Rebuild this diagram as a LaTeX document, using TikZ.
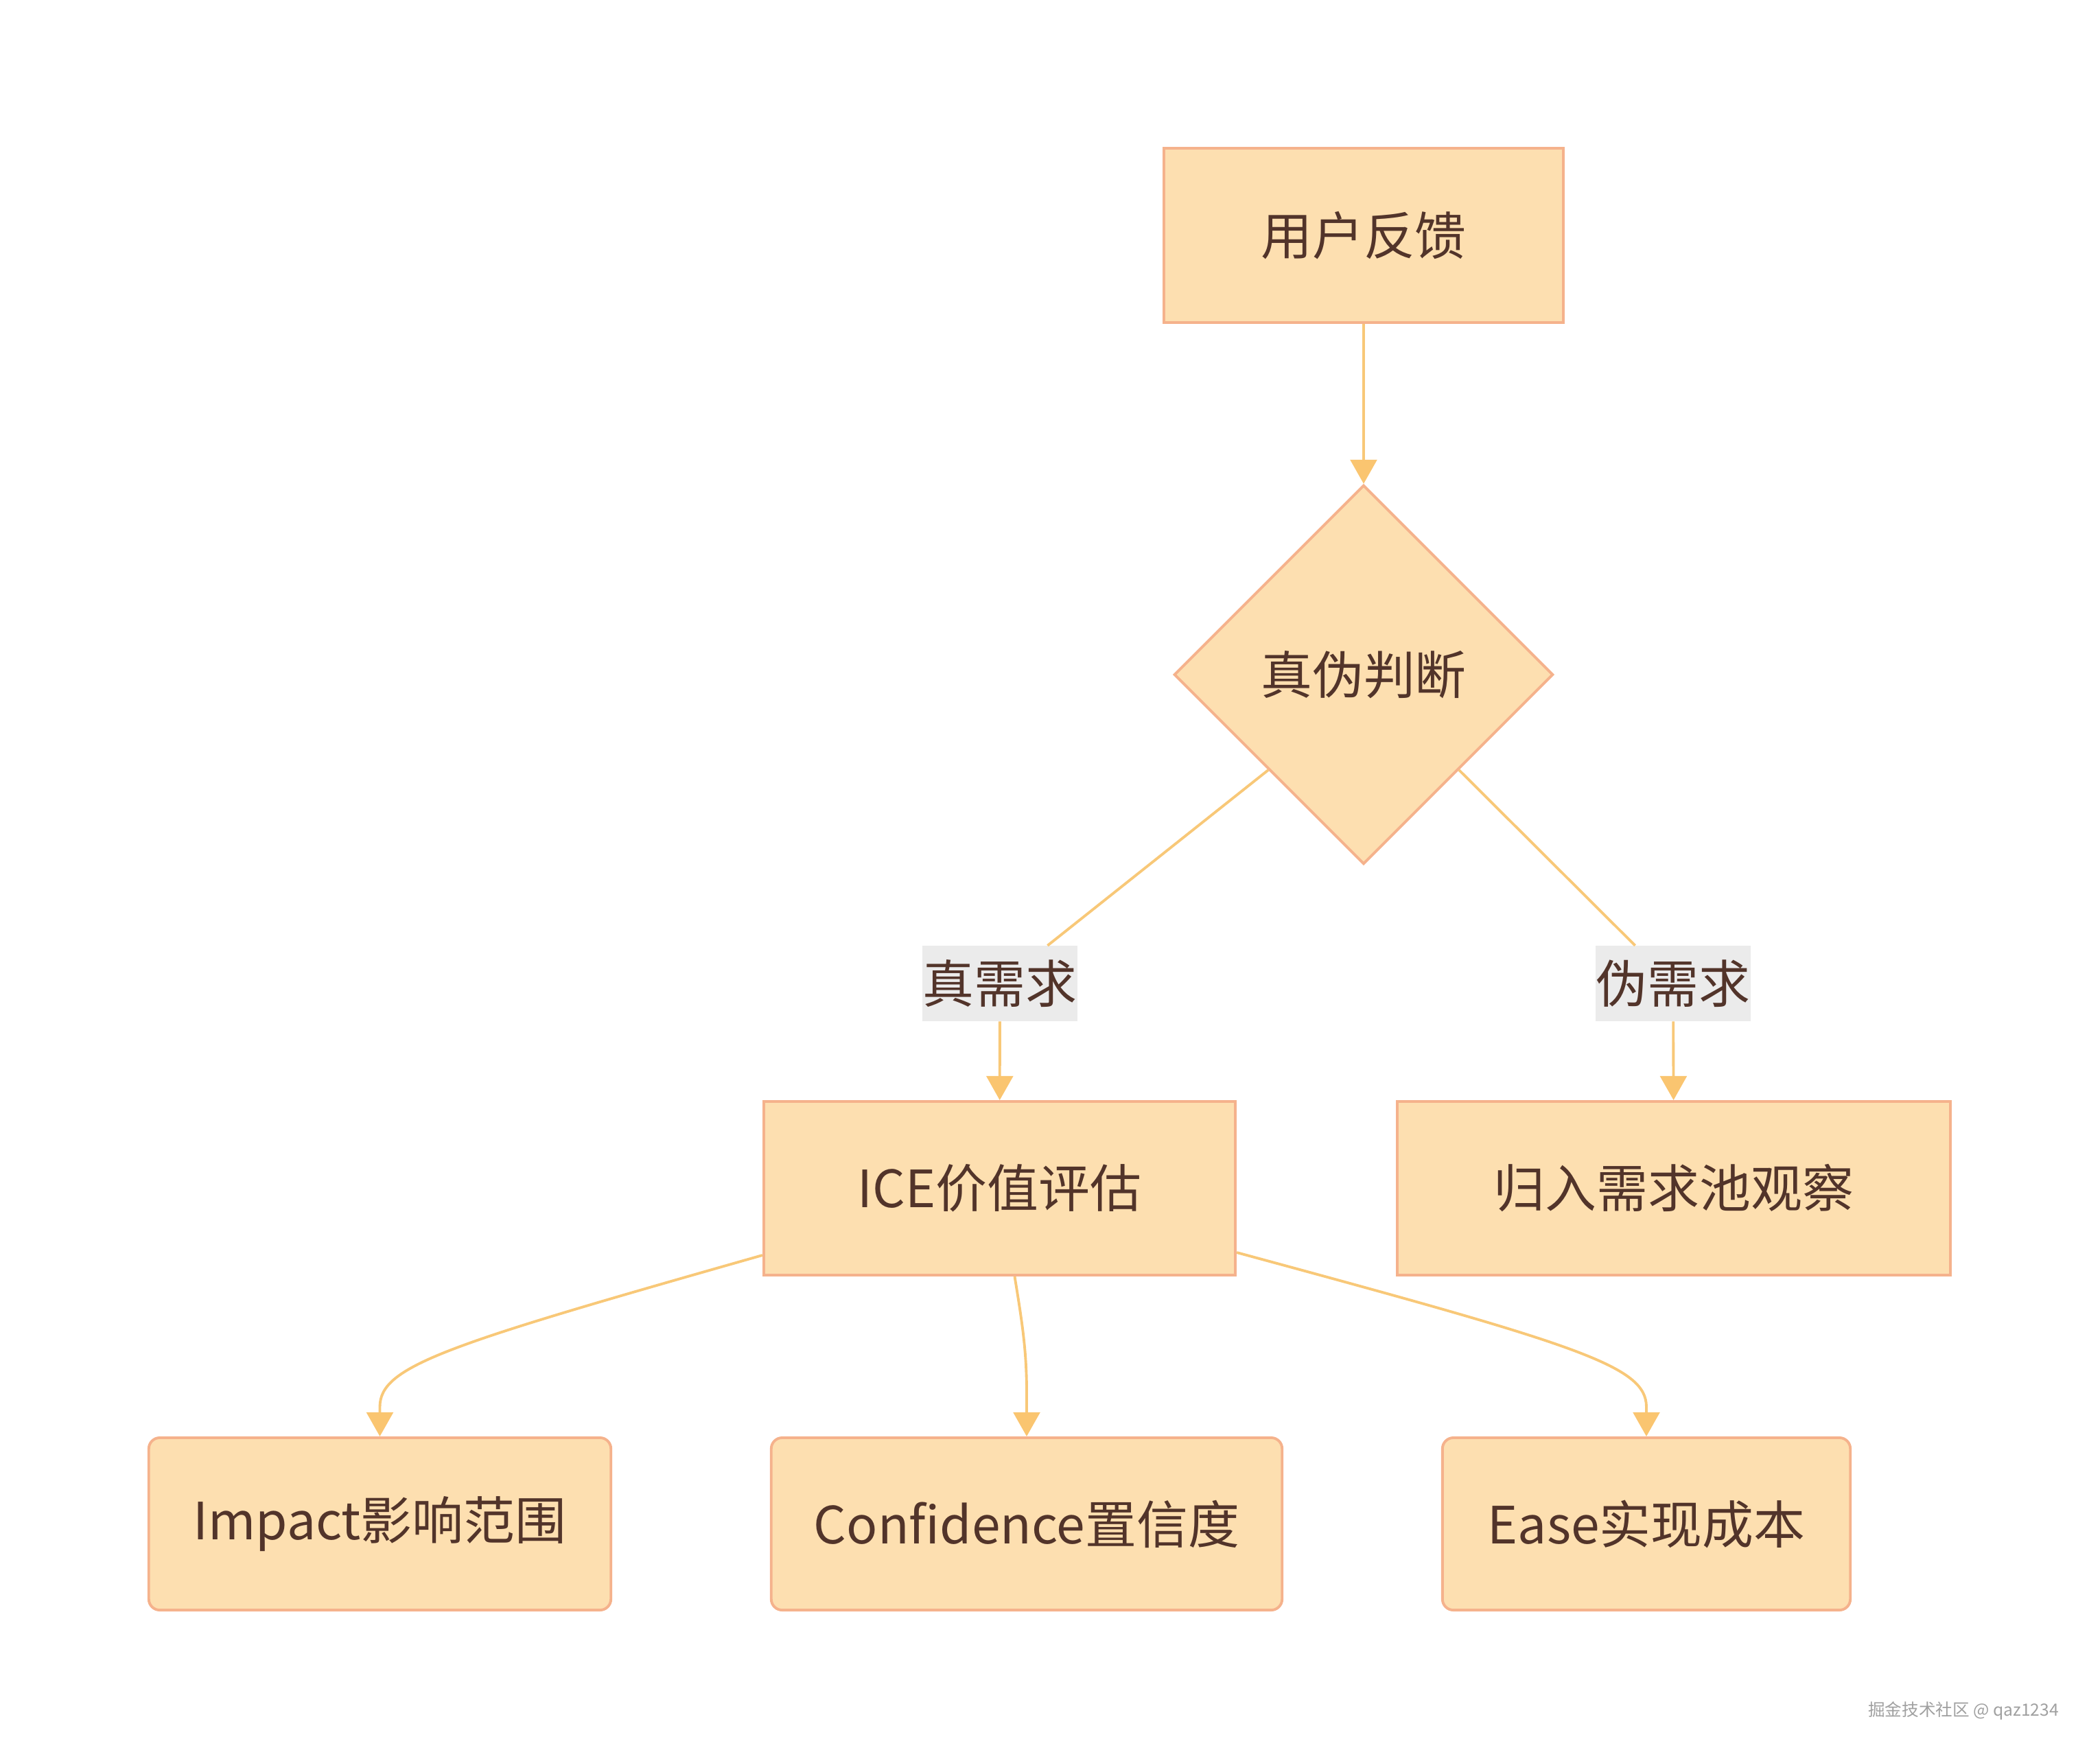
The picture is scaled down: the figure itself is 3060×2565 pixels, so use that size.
\documentclass[tikz,border=0pt]{standalone}
\usepackage{fontspec}
\setmainfont{Noto Sans CJK SC}
\usetikzlibrary{shapes.geometric,arrows.meta,calc}
\definecolor{boxfill}{HTML}{FDDFB0}
\definecolor{boxline}{HTML}{F5B28C}
\definecolor{edgecol}{HTML}{F8C878}
\definecolor{tipcol}{HTML}{FAC570}
\definecolor{txt}{HTML}{52342A}
\definecolor{lblbg}{HTML}{EBEBEB}
\definecolor{wm}{HTML}{A0A0A0}
\begin{document}
\begin{tikzpicture}[x=0.01cm,y=-0.01cm,
  base/.style={fill=boxfill,draw=boxline,line width=1.1pt,text=txt,font=\fontsize{21.3}{25}\selectfont,inner sep=0pt},
  sqbox/.style={base,rectangle},
  rbox/.style={base,rectangle,rounded corners=0.16cm},
  decide/.style={base,diamond,aspect=1},
  lbl/.style={fill=lblbg,text=txt,font=\fontsize{21.3}{25}\selectfont,inner sep=0pt,minimum height=1.09cm,minimum width=2.25cm},
  edge/.style={draw=edgecol,line width=1.1pt,-{Triangle[width=11pt,length=10pt,color=tipcol]}},
  plain/.style={draw=edgecol,line width=1.1pt},
  wmark/.style={text=wm,font=\fontsize{7}{8}\selectfont,inner sep=0pt}
]
\useasboundingbox (0,0) rectangle (3060,2565);

% nodes
\node[sqbox,minimum width=5.82cm,minimum height=2.54cm] (fb) at (1987,343) {用户反馈};
\node[decide,minimum width=5.52cm,minimum height=5.52cm] (dia) at (1987,983) {真伪判断};
\node[lbl] (lt) at (1457,1433) {真需求};
\node[lbl] (lf) at (2438,1433) {伪需求};
\node[sqbox,minimum width=6.87cm,minimum height=2.53cm] (ice) at (1456.5,1731.5) {ICE价值评估};
\node[sqbox,minimum width=8.06cm,minimum height=2.53cm] (ret) at (2439,1731.5) {归入需求池观察};
\node[rbox,minimum width=6.73cm,minimum height=2.51cm] (imp) at (553.5,2220.5) {Impact影响范围};
\node[rbox,minimum width=7.44cm,minimum height=2.51cm] (conf) at (1496,2220.5) {Confidence置信度};
\node[rbox,minimum width=5.94cm,minimum height=2.51cm] (ease) at (2399,2220.5) {Ease实现成本};
\node[wmark] (wmk) at (2861,2493) {掘金技术社区 @ qaz1234};

% connectors
\draw[edge] (fb.south) -- (dia.north);
\draw[plain] (dia.south west) -- (lt);
\draw[edge] (lt) -- (ice);
\draw[plain] (dia.south east) -- (lf);
\draw[edge] (lf) -- (ret);
\draw[edge] ($(ice.south west)+(0,-31)$) .. controls (650,1960) and (553.5,1990) .. (553.5,2050) -- (imp.north);
\draw[edge] ($(ice.south)+(22,0)$) .. controls (1490,1930) and (1496,1970) .. (1496,2030) -- (conf.north);
\draw[edge] ($(ice.south east)+(0,-35)$) .. controls (2300,1960) and (2399,1990) .. (2399,2050) -- (ease.north);
\end{tikzpicture}
\end{document}
